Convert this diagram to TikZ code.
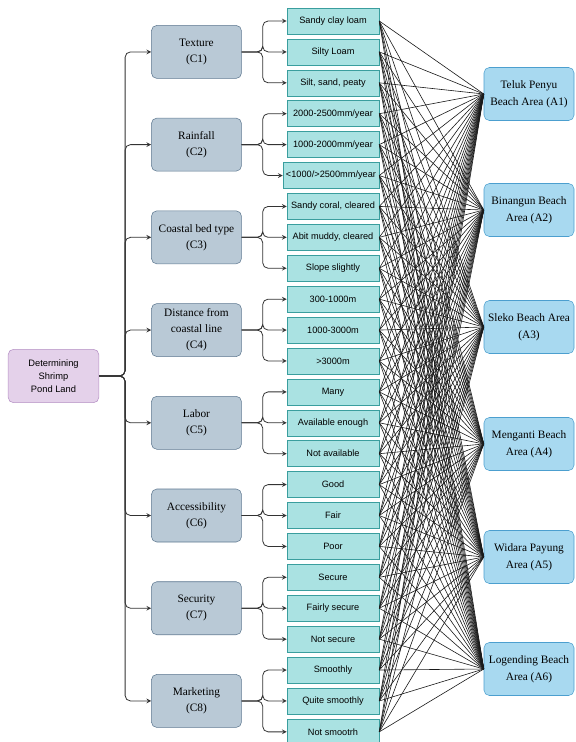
\documentclass[tikz,border=0pt]{standalone}
\usepackage{fontspec}
\setmainfont{Liberation Serif}
\setsansfont{Liberation Sans}
\usetikzlibrary{positioning}
\definecolor{goalfill}{HTML}{E4D1EA}
\definecolor{goalline}{HTML}{B48FC4}
\definecolor{critfill}{HTML}{B9C9D6}
\definecolor{critline}{HTML}{5E7890}
\definecolor{subfill}{HTML}{AAE2E2}
\definecolor{subline}{HTML}{3A9E9E}
\definecolor{altfill}{HTML}{A8D9F0}
\definecolor{altline}{HTML}{4C9FCF}

\begin{document}
\begin{tikzpicture}[x=0.75pt, y=-0.75pt,
		goal/.style={rectangle, rounded corners=4pt, draw=goalline, fill=goalfill, minimum width=68pt, minimum height=40pt, inner sep=2pt, align=center, font=\sffamily\fontsize{7}{9.5}\selectfont},
		crit/.style={rectangle, rounded corners=4pt, draw=critline, fill=critfill, minimum width=67.5pt, minimum height=39.75pt, inner sep=1pt, align=center, font=\fontsize{8.5}{12}\selectfont},
		sub/.style={rectangle, draw=subline, fill=subfill, minimum width=69pt, minimum height=19.5pt, inner sep=1pt, align=center, font=\sffamily\fontsize{6.9}{8}\selectfont},
		alt/.style={rectangle, rounded corners=4pt, draw=altline, fill=altfill, minimum width=67.5pt, minimum height=39.75pt, inner sep=1pt, align=center, font=\fontsize{8.5}{12.5}\selectfont},
		arr/.style={-stealth, draw=black!80, line width=0.6pt, rounded corners=4pt},
		web/.style={draw=black!90, line width=0.45pt}
	]
	\useasboundingbox (0,0) rectangle (575,742);
	% sub-criteria column
	\node[sub] (s1) at (333,21) {Sandy clay loam};
	\node[sub] (s2) [below=3.28pt of s1] {Silty Loam};
	\node[sub] (s3) [below=3.28pt of s2] {Silt, sand, peaty};
	\node[sub] (s4) [below=3.28pt of s3] {2000-2500mm/year};
	\node[sub] (s5) [below=3.28pt of s4] {1000-2000mm/year};
	\node[sub, minimum width=72pt] (s6) [below=3.28pt of s5.south east, anchor=north east] {<1000/>2500mm/year};
	\node[sub] (s7) [below=3.28pt of s6.south east, anchor=north east] {Sandy coral, cleared};
	\node[sub] (s8) [below=3.28pt of s7] {Abit muddy, cleared};
	\node[sub] (s9) [below=3.28pt of s8] {Slope slightly};
	\node[sub] (s10) [below=3.28pt of s9] {300-1000m};
	\node[sub] (s11) [below=3.28pt of s10] {1000-3000m};
	\node[sub] (s12) [below=3.28pt of s11] {>3000m};
	\node[sub] (s13) [below=3.28pt of s12] {Many};
	\node[sub] (s14) [below=3.28pt of s13] {Available enough};
	\node[sub] (s15) [below=3.28pt of s14] {Not available};
	\node[sub] (s16) [below=3.28pt of s15] {Good};
	\node[sub] (s17) [below=3.28pt of s16] {Fair};
	\node[sub] (s18) [below=3.28pt of s17] {Poor};
	\node[sub] (s19) [below=3.28pt of s18] {Secure};
	\node[sub] (s20) [below=3.28pt of s19] {Fairly secure};
	\node[sub] (s21) [below=3.28pt of s20] {Not secure};
	\node[sub] (s22) [below=3.28pt of s21] {Smoothly};
	\node[sub] (s23) [below=3.28pt of s22] {Quite smoothly};
	\node[sub] (s24) [below=3.28pt of s23] {Not smootrh};
	% criteria
	\node[crit] (c1) [left=33.75pt of s2] {Texture\\(C1)};
	\node[crit] (c2) [left=33.75pt of s5] {Rainfall\\(C2)};
	\node[crit] (c3) [left=33.75pt of s8] {Coastal bed type\\(C3)};
	\node[crit] (c4) [left=33.75pt of s11] {Distance from\\coastal line\\(C4)};
	\node[crit] (c5) [left=33.75pt of s14] {Labor\\(C5)};
	\node[crit] (c6) [left=33.75pt of s17] {Accessibility\\(C6)};
	\node[crit] (c7) [left=33.75pt of s20] {Security\\(C7)};
	\node[crit] (c8) [left=33.75pt of s23] {Marketing\\(C8)};
	% goal
	\node[goal] (goal) at (53.5,376) {Determining\\Shrimp\\Pond Land};
	% alternatives
	\node[alt] (a1) at (529,94) {Teluk Penyu\\Beach Area (A1)};
	\node[alt] (a2) at (529,210) {Binangun Beach\\Area (A2)};
	\node[alt] (a3) at (529,327) {Sleko Beach Area\\(A3)};
	\node[alt] (a4) at (529,444) {Menganti Beach\\Area (A4)};
	\node[alt] (a5) at (529,557) {Widara Payung\\Area (A5)};
	\node[alt] (a6) at (529,669) {Logending Beach\\Area (A6)};
	% goal to criteria
	\foreach \c in {1,...,8}
		\draw[arr] (goal.east) -- ++(26,0) |- (c\c.west);
	% criteria to sub-criteria
	\foreach \c in {1,...,8}
		\foreach \j in {0,1,2} {
			\pgfmathtruncatemacro\s{3*\c-2+\j}
			\draw[arr] (c\c.east) -- ++(21,0) |- (s\s.west);
		}
	% every sub-criterion to every alternative
	\foreach \s in {1,...,24}
		\foreach \a in {1,...,6}
			\draw[web] (s\s.east) -- (a\a.west);
\end{tikzpicture}
\end{document}
